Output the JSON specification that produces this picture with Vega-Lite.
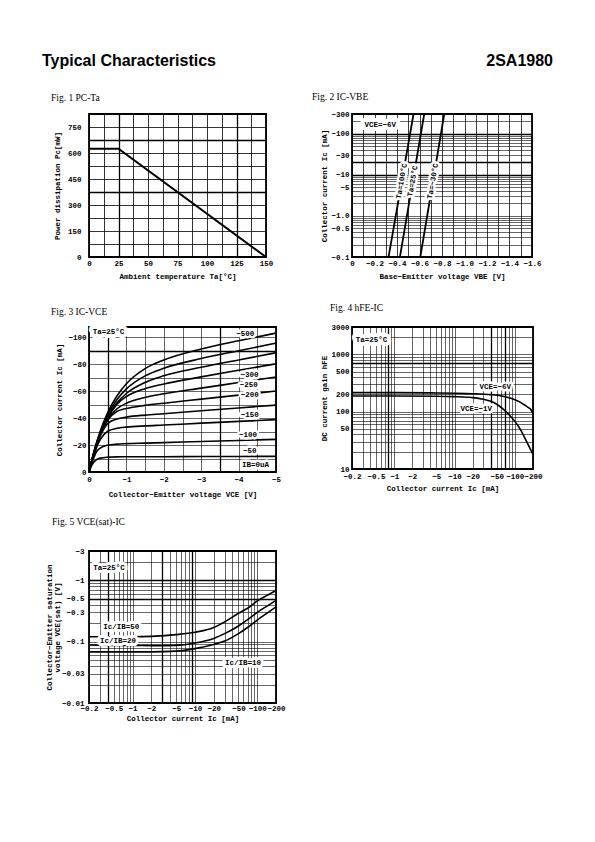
{
"$schema": "https://vega.github.io/schema/vega-lite/v6.json",
"padding": {"left": 42, "top": 53, "right": 5, "bottom": 5},
"background": "white",
"config": {
 "view": {"stroke": "black", "strokeWidth": 1.8},
 "axis": {"domain": false, "ticks": false, "grid": true, "gridColor": "black", "gridWidth": 0.75, "tickCount": 200, "labelFont": "Liberation Mono", "labelFontSize": 7.5, "labelFontWeight": "bold", "labelColor": "black", "labelPadding": 3, "titleFont": "Liberation Mono", "titleFontSize": 7.5, "titleFontWeight": "bold", "titleColor": "black", "titlePadding": 5, "labelOverlap": false, "labelBound": false, "labelFlush": false},
 "title": {"font": "Liberation Serif", "fontSize": 9.5, "fontWeight": "normal", "color": "black", "anchor": "start", "frame": "group", "offset": 9},
 "text": {"font": "Liberation Mono", "fontSize": 7.5, "fontWeight": "bold", "color": "black"},
 "line": {"color": "black", "strokeWidth": 1.6}
},
"datasets": {
 "head": [{"t": "Typical Characteristics", "p": 0, "side": "l"}, {"t": "2SA1980", "p": 1, "side": "r"}],
 "none": [],
 "f1": [{"ta": 0, "pc": 625}, {"ta": 25, "pc": 625}, {"ta": 150, "pc": 0}],
 "f2": [{"s": "100", "vbe": -0.325, "ic": 0.1}, {"s": "100", "vbe": -0.547, "ic": 300}, {"s": "25", "vbe": -0.426, "ic": 0.1}, {"s": "25", "vbe": -0.642, "ic": 300}, {"s": "-30", "vbe": -0.607, "ic": 0.1}, {"s": "-30", "vbe": -0.82, "ic": 300}],
 "f2lab": [{"t": "Ta=100°C", "vbe": -0.443, "ic": 7}, {"t": "Ta=25°C", "vbe": -0.541, "ic": 7}, {"t": "Ta=−30°C", "vbe": -0.72, "ic": 7}],
 "f2box": [{"t": "VCE=−6V", "vbe": -0.11, "ic": 160}],
 "f3": [
  {"ib": 500, "v": 0, "i": 0}, {"ib": 500, "v": -0.1, "i": -11.6}, {"ib": 500, "v": -0.2, "i": -21.6}, {"ib": 500, "v": -0.3, "i": -30.2}, {"ib": 500, "v": -0.5, "i": -44}, {"ib": 500, "v": -0.75, "i": -56.5}, {"ib": 500, "v": -1, "i": -65.4}, {"ib": 500, "v": -1.5, "i": -76.6}, {"ib": 500, "v": -2, "i": -83}, {"ib": 500, "v": -3, "i": -91.2}, {"ib": 500, "v": -4, "i": -97.3}, {"ib": 500, "v": -5, "i": -103},
  {"ib": 450, "v": 0, "i": 0}, {"ib": 450, "v": -0.1, "i": -11.4}, {"ib": 450, "v": -0.2, "i": -21.1}, {"ib": 450, "v": -0.3, "i": -29.3}, {"ib": 450, "v": -0.5, "i": -42.2}, {"ib": 450, "v": -0.75, "i": -53.7}, {"ib": 450, "v": -1, "i": -61.6}, {"ib": 450, "v": -1.5, "i": -71.3}, {"ib": 450, "v": -2, "i": -76.9}, {"ib": 450, "v": -3, "i": -84.1}, {"ib": 450, "v": -4, "i": -89.9}, {"ib": 450, "v": -5, "i": -95.5},
  {"ib": 400, "v": 0, "i": 0}, {"ib": 400, "v": -0.1, "i": -11.3}, {"ib": 400, "v": -0.2, "i": -20.8}, {"ib": 400, "v": -0.3, "i": -28.7}, {"ib": 400, "v": -0.5, "i": -40.8}, {"ib": 400, "v": -0.75, "i": -51.3}, {"ib": 400, "v": -1, "i": -58.2}, {"ib": 400, "v": -1.5, "i": -66.4}, {"ib": 400, "v": -2, "i": -71.3}, {"ib": 400, "v": -3, "i": -77.6}, {"ib": 400, "v": -4, "i": -83.1}, {"ib": 400, "v": -5, "i": -88.4},
  {"ib": 350, "v": 0, "i": 0}, {"ib": 350, "v": -0.1, "i": -11.2}, {"ib": 350, "v": -0.2, "i": -20.5}, {"ib": 350, "v": -0.3, "i": -28.3}, {"ib": 350, "v": -0.5, "i": -40}, {"ib": 350, "v": -0.75, "i": -50.3}, {"ib": 350, "v": -1, "i": -55.9}, {"ib": 350, "v": -1.5, "i": -61.8}, {"ib": 350, "v": -2, "i": -65.2}, {"ib": 350, "v": -3, "i": -70.5}, {"ib": 350, "v": -4, "i": -75.4}, {"ib": 350, "v": -5, "i": -80.2},
  {"ib": 300, "v": 0, "i": 0}, {"ib": 300, "v": -0.1, "i": -11}, {"ib": 300, "v": -0.2, "i": -20.2}, {"ib": 300, "v": -0.3, "i": -28}, {"ib": 300, "v": -0.5, "i": -39.2}, {"ib": 300, "v": -0.75, "i": -46.9}, {"ib": 300, "v": -1, "i": -51}, {"ib": 300, "v": -1.5, "i": -55.3}, {"ib": 300, "v": -2, "i": -58}, {"ib": 300, "v": -3, "i": -62.2}, {"ib": 300, "v": -4, "i": -66.3}, {"ib": 300, "v": -5, "i": -70.4},
  {"ib": 250, "v": 0, "i": 0}, {"ib": 250, "v": -0.1, "i": -10.8}, {"ib": 250, "v": -0.2, "i": -19.8}, {"ib": 250, "v": -0.3, "i": -27.5}, {"ib": 250, "v": -0.5, "i": -38.5}, {"ib": 250, "v": -0.75, "i": -44.9}, {"ib": 250, "v": -1, "i": -47.1}, {"ib": 250, "v": -1.5, "i": -49.4}, {"ib": 250, "v": -2, "i": -51}, {"ib": 250, "v": -3, "i": -54}, {"ib": 250, "v": -4, "i": -57}, {"ib": 250, "v": -5, "i": -60},
  {"ib": 200, "v": 0, "i": 0}, {"ib": 200, "v": -0.1, "i": -10.5}, {"ib": 200, "v": -0.2, "i": -19}, {"ib": 200, "v": -0.3, "i": -26.5}, {"ib": 200, "v": -0.5, "i": -35.9}, {"ib": 200, "v": -0.75, "i": -39.3}, {"ib": 200, "v": -1, "i": -40.7}, {"ib": 200, "v": -1.5, "i": -42.2}, {"ib": 200, "v": -2, "i": -43.2}, {"ib": 200, "v": -3, "i": -45.4}, {"ib": 200, "v": -4, "i": -47.5}, {"ib": 200, "v": -5, "i": -49.6},
  {"ib": 150, "v": 0, "i": 0}, {"ib": 150, "v": -0.1, "i": -10}, {"ib": 150, "v": -0.2, "i": -18}, {"ib": 150, "v": -0.3, "i": -24}, {"ib": 150, "v": -0.5, "i": -30.2}, {"ib": 150, "v": -0.75, "i": -32.4}, {"ib": 150, "v": -1, "i": -33.3}, {"ib": 150, "v": -1.5, "i": -34.2}, {"ib": 150, "v": -2, "i": -34.8}, {"ib": 150, "v": -3, "i": -36.2}, {"ib": 150, "v": -4, "i": -37.5}, {"ib": 150, "v": -5, "i": -38.8},
  {"ib": 100, "v": 0, "i": 0}, {"ib": 100, "v": -0.1, "i": -8.5}, {"ib": 100, "v": -0.2, "i": -15}, {"ib": 100, "v": -0.3, "i": -17.7}, {"ib": 100, "v": -0.5, "i": -19.9}, {"ib": 100, "v": -0.75, "i": -20.7}, {"ib": 100, "v": -1, "i": -21}, {"ib": 100, "v": -1.5, "i": -21.4}, {"ib": 100, "v": -2, "i": -21.8}, {"ib": 100, "v": -3, "i": -22.6}, {"ib": 100, "v": -4, "i": -23.4}, {"ib": 100, "v": -5, "i": -24.2},
  {"ib": 50, "v": 0, "i": 0}, {"ib": 50, "v": -0.1, "i": -6.3}, {"ib": 50, "v": -0.2, "i": -9.1}, {"ib": 50, "v": -0.3, "i": -10.3}, {"ib": 50, "v": -0.5, "i": -11}, {"ib": 50, "v": -0.75, "i": -11.25}, {"ib": 50, "v": -1, "i": -11.3}, {"ib": 50, "v": -1.5, "i": -11.33}, {"ib": 50, "v": -2, "i": -11.36}, {"ib": 50, "v": -3, "i": -11.44}, {"ib": 50, "v": -4, "i": -11.52}, {"ib": 50, "v": -5, "i": -11.6},
  {"ib": 0, "v": 0, "i": 0}, {"ib": 0, "v": -5, "i": 0}
 ],
 "f3lab": [{"t": "−500", "v": -4.18, "i": -102.5}, {"t": "−300", "v": -4.29, "i": -71.6}, {"t": "−250", "v": -4.27, "i": -64.2}, {"t": "−200", "v": -4.3, "i": -57.3}, {"t": "−150", "v": -4.3, "i": -42}, {"t": "−100", "v": -4.25, "i": -27.2}, {"t": "−50", "v": -4.3, "i": -15.3}, {"t": "IB=0uA", "v": -4.45, "i": -4.9}],
 "f3box": [{"t": "Ta=25°C", "v": -0.1, "i": -103.5}],
 "f4": [
  {"s": "6", "ic": 0.2, "h": 215}, {"s": "6", "ic": 1, "h": 215}, {"s": "6", "ic": 5, "h": 212}, {"s": "6", "ic": 10, "h": 210}, {"s": "6", "ic": 20, "h": 206}, {"s": "6", "ic": 40, "h": 198}, {"s": "6", "ic": 60, "h": 188}, {"s": "6", "ic": 80, "h": 175}, {"s": "6", "ic": 100, "h": 162}, {"s": "6", "ic": 120, "h": 148}, {"s": "6", "ic": 150, "h": 128}, {"s": "6", "ic": 170, "h": 117}, {"s": "6", "ic": 185, "h": 108}, {"s": "6", "ic": 200, "h": 92},
  {"s": "1", "ic": 0.2, "h": 188}, {"s": "1", "ic": 1, "h": 188}, {"s": "1", "ic": 5, "h": 186}, {"s": "1", "ic": 10, "h": 183}, {"s": "1", "ic": 20, "h": 176}, {"s": "1", "ic": 30, "h": 165}, {"s": "1", "ic": 40, "h": 152}, {"s": "1", "ic": 50, "h": 135}, {"s": "1", "ic": 65, "h": 110}, {"s": "1", "ic": 83, "h": 85}, {"s": "1", "ic": 100, "h": 68}, {"s": "1", "ic": 122, "h": 50}, {"s": "1", "ic": 157, "h": 30}, {"s": "1", "ic": 200, "h": 18}
 ],
 "f4lab": [{"t": "VCE=−6V", "ic": 47.5, "h": 266}, {"t": "VCE=−1V", "ic": 23, "h": 110}],
 "f4box": [{"t": "Ta=25°C", "ic": 0.23, "h": 1750}],
 "f5": [
  {"r": 50, "ic": 0.2, "v": 0.12}, {"r": 50, "ic": 0.5, "v": 0.12}, {"r": 50, "ic": 1, "v": 0.12}, {"r": 50, "ic": 2, "v": 0.122}, {"r": 50, "ic": 5, "v": 0.13}, {"r": 50, "ic": 10, "v": 0.142}, {"r": 50, "ic": 20, "v": 0.17}, {"r": 50, "ic": 30, "v": 0.21}, {"r": 50, "ic": 50, "v": 0.29}, {"r": 50, "ic": 70, "v": 0.35}, {"r": 50, "ic": 100, "v": 0.46}, {"r": 50, "ic": 150, "v": 0.58}, {"r": 50, "ic": 200, "v": 0.68},
  {"r": 20, "ic": 0.2, "v": 0.088}, {"r": 20, "ic": 0.5, "v": 0.087}, {"r": 20, "ic": 1, "v": 0.087}, {"r": 20, "ic": 2, "v": 0.086}, {"r": 20, "ic": 5, "v": 0.087}, {"r": 20, "ic": 10, "v": 0.095}, {"r": 20, "ic": 20, "v": 0.113}, {"r": 20, "ic": 30, "v": 0.135}, {"r": 20, "ic": 50, "v": 0.18}, {"r": 20, "ic": 70, "v": 0.228}, {"r": 20, "ic": 100, "v": 0.3}, {"r": 20, "ic": 150, "v": 0.39}, {"r": 20, "ic": 200, "v": 0.47},
  {"r": 10, "ic": 0.2, "v": 0.068}, {"r": 10, "ic": 0.5, "v": 0.068}, {"r": 10, "ic": 1, "v": 0.068}, {"r": 10, "ic": 2, "v": 0.068}, {"r": 10, "ic": 5, "v": 0.07}, {"r": 10, "ic": 10, "v": 0.077}, {"r": 10, "ic": 20, "v": 0.09}, {"r": 10, "ic": 30, "v": 0.102}, {"r": 10, "ic": 50, "v": 0.135}, {"r": 10, "ic": 70, "v": 0.17}, {"r": 10, "ic": 100, "v": 0.225}, {"r": 10, "ic": 150, "v": 0.3}, {"r": 10, "ic": 200, "v": 0.37}
 ],
 "f5lab": [{"t": "Ta=25°C", "ic": 0.234, "v": 1.57}, {"t": "Ic/IB=50", "ic": 0.34, "v": 0.172}, {"t": "Ic/IB=20", "ic": 0.3, "v": 0.103}, {"t": "Ic/IB=10", "ic": 30.3, "v": 0.0455}]
},
"bounds": "flush",
"columns": 2,
"align": {"row": "none", "column": "each"},
"spacing": {"row": 30, "column": 76},
"concat": [
 {
  "width": 187, "height": 10,
  "view": {"stroke": null},
  "data": {"name": "head"},
  "transform": [{"filter": "datum.side == 'l'"}],
  "mark": {"type": "text", "align": "left", "baseline": "middle", "dx": -47, "dy": -18, "font": "Liberation Sans", "fontSize": 16, "fontWeight": "bold", "color": "black"},
  "encoding": {"x": {"field": "p", "type": "quantitative", "scale": {"domain": [0, 1]}, "axis": null}, "text": {"field": "t"}}
 },
 {
  "width": 181, "height": 10,
  "view": {"stroke": null},
  "data": {"name": "head"},
  "transform": [{"filter": "datum.side == 'r'"}],
  "mark": {"type": "text", "align": "right", "baseline": "middle", "dx": 20, "dy": -18, "font": "Liberation Sans", "fontSize": 16, "fontWeight": "bold", "color": "black"},
  "encoding": {"x": {"field": "p", "type": "quantitative", "scale": {"domain": [0, 1]}, "axis": null}, "text": {"field": "t"}}
 },
 {
  "title": {"text": "Fig. 1 PC-Ta", "dx": -38, "offset": 8},
  "width": 177, "height": 143,
  "data": {"name": "f1"},
  "mark": {"type": "line", "color": "black", "strokeWidth": 2},
  "encoding": {
   "x": {"field": "ta", "type": "quantitative", "scale": {"domain": [0, 150], "nice": false},
    "axis": {"values": [0, 12.5, 25, 37.5, 50, 62.5, 75, 87.5, 100, 112.5, 125, 137.5, 150], "labelExpr": "datum.value % 25 == 0 ? format(datum.value, 'd') : ''", "title": "Ambient temperature Ta[°C]", "labelPadding": 2, "titlePadding": 6, "gridWidth": {"condition": {"test": "datum.value == 25 || datum.value == 125", "value": 1.3}, "value": 0.8}}},
   "y": {"field": "pc", "type": "quantitative", "scale": {"domain": [0, 825], "nice": false},
    "axis": {"values": [0, 75, 150, 225, 300, 375, 450, 525, 600, 675, 750, 825], "labelExpr": "datum.value % 150 == 0 ? format(datum.value, 'd') : ''", "title": "Power dissipation Pc[mW]", "labelPadding": 8, "titlePadding": 6, "gridWidth": {"condition": {"test": "datum.value == 375 || datum.value == 675", "value": 1.3}, "value": 0.8}}}
  }
 },
 {
  "title": {"text": "Fig. 2 IC-VBE", "dx": -40, "offset": 9},
  "width": 180, "height": 143,
  "layer": [
   {
    "data": {"name": "f2"},
    "mark": {"type": "line", "color": "black", "strokeWidth": 1.8},
    "encoding": {
     "x": {"field": "vbe", "type": "quantitative", "scale": {"domain": [0, -1.6], "nice": false, "zero": false},
      "axis": {"values": [0, -0.1, -0.2, -0.3, -0.4, -0.5, -0.6, -0.7, -0.8, -0.9, -1.0, -1.1, -1.2, -1.3, -1.4, -1.5, -1.6], "labelExpr": "abs(round(datum.value * 10)) % 2 == 0 ? (datum.value == 0 ? '0' : format(datum.value, '.1f')) : ''", "title": "Base−Emitter voltage VBE [V]", "labelPadding": 2, "titlePadding": 6}},
     "y": {"field": "ic", "type": "quantitative", "scale": {"type": "log", "domain": [0.1, 300], "nice": false},
      "axis": {"values": [0.1, 0.2, 0.3, 0.4, 0.5, 0.6, 0.7, 0.8, 0.9, 1, 2, 3, 4, 5, 6, 7, 8, 9, 10, 20, 30, 40, 50, 60, 70, 80, 90, 100, 200, 300], "labelExpr": "indexof([0.1, 0.5, 1, 5, 10, 30, 100, 300], datum.value) >= 0 ? (datum.value == 1 ? '−1.0' : '−' + datum.value) : ''", "title": "Collector current Ic [mA]", "labelPadding": 3, "titlePadding": 2, "gridWidth": {"condition": {"test": "datum.value == 100 || datum.value == 20 || datum.value == 10", "value": 1.3}, "value": 0.6}}},
     "detail": {"field": "s"}
    }
   },
   {
    "data": {"name": "f2lab"},
    "mark": {"type": "text", "angle": 280, "stroke": "white", "strokeWidth": 5, "strokeJoin": "round"},
    "encoding": {"x": {"field": "vbe", "type": "quantitative"}, "y": {"field": "ic", "type": "quantitative"}, "text": {"field": "t"}}
   },
   {
    "data": {"name": "f2lab"},
    "mark": {"type": "text", "angle": 280},
    "encoding": {"x": {"field": "vbe", "type": "quantitative"}, "y": {"field": "ic", "type": "quantitative"}, "text": {"field": "t"}}
   },
   {
    "data": {"name": "f2box"},
    "mark": {"type": "text", "align": "left", "stroke": "white", "strokeWidth": 8, "strokeJoin": "round"},
    "encoding": {"x": {"field": "vbe", "type": "quantitative"}, "y": {"field": "ic", "type": "quantitative"}, "text": {"field": "t"}}
   },
   {
    "data": {"name": "f2box"},
    "mark": {"type": "text", "align": "left"},
    "encoding": {"x": {"field": "vbe", "type": "quantitative"}, "y": {"field": "ic", "type": "quantitative"}, "text": {"field": "t"}}
   }
  ]
 },
 {
  "width": 1, "height": 10,
  "view": {"stroke": null},
  "data": {"name": "none"},
  "mark": "point",
  "encoding": {}
 },
 {
  "width": 1, "height": 6,
  "view": {"stroke": null},
  "data": {"name": "none"},
  "mark": "point",
  "encoding": {}
 },
 {
  "title": {"text": "Fig. 3 IC-VCE", "dx": -38, "offset": 11},
  "width": 187, "height": 145,
  "layer": [
   {
    "data": {"name": "f3"},
    "mark": {"type": "line", "color": "black", "strokeWidth": 1.6, "interpolate": "monotone"},
    "encoding": {
     "x": {"field": "v", "type": "quantitative", "scale": {"domain": [0, -5], "nice": false, "zero": false},
      "axis": {"values": [0, -0.5, -1, -1.5, -2, -2.5, -3, -3.5, -4, -4.5, -5], "labelExpr": "datum.value % 1 == 0 ? format(datum.value, 'd') : ''", "title": "Collector−Emitter voltage VCE [V]", "labelPadding": 3, "titlePadding": 8, "gridWidth": {"condition": {"test": "datum.value == -0.5 || datum.value == -3.5", "value": 1.3}, "value": 0.6}}},
     "y": {"field": "i", "type": "quantitative", "scale": {"domain": [0, -107.5], "nice": false, "zero": false},
      "axis": {"values": [0, -10, -20, -30, -40, -50, -60, -70, -80, -90, -100], "labelExpr": "datum.value % 20 == 0 ? format(datum.value, 'd') : ''", "title": "Collector current Ic [mA]", "labelPadding": 3, "titlePadding": 4, "gridWidth": {"condition": {"test": "datum.value == -90", "value": 1.3}, "value": 0.6}}},
     "detail": {"field": "ib"}
    }
   },
   {
    "data": {"name": "f3lab"},
    "mark": {"type": "text", "stroke": "white", "strokeWidth": 5, "strokeJoin": "round"},
    "encoding": {"x": {"field": "v", "type": "quantitative"}, "y": {"field": "i", "type": "quantitative"}, "text": {"field": "t"}}
   },
   {
    "data": {"name": "f3lab"},
    "mark": {"type": "text"},
    "encoding": {"x": {"field": "v", "type": "quantitative"}, "y": {"field": "i", "type": "quantitative"}, "text": {"field": "t"}}
   },
   {
    "data": {"name": "f3box"},
    "mark": {"type": "text", "align": "left", "stroke": "white", "strokeWidth": 8, "strokeJoin": "round"},
    "encoding": {"x": {"field": "v", "type": "quantitative"}, "y": {"field": "i", "type": "quantitative"}, "text": {"field": "t"}}
   },
   {
    "data": {"name": "f3box"},
    "mark": {"type": "text", "align": "left"},
    "encoding": {"x": {"field": "v", "type": "quantitative"}, "y": {"field": "i", "type": "quantitative"}, "text": {"field": "t"}}
   }
  ]
 },
 {
  "title": {"text": "Fig. 4 hFE-IC", "dx": -22, "offset": 11},
  "width": 181, "height": 142,
  "layer": [
   {
    "data": {"name": "f4"},
    "mark": {"type": "line", "color": "black", "strokeWidth": 1.6, "interpolate": "monotone"},
    "encoding": {
     "x": {"field": "ic", "type": "quantitative", "scale": {"type": "log", "domain": [0.2, 200], "nice": false},
      "axis": {"values": [0.2, 0.3, 0.4, 0.5, 0.6, 0.7, 0.8, 0.9, 1, 2, 3, 4, 5, 6, 7, 8, 9, 10, 20, 30, 40, 50, 60, 70, 80, 90, 100, 200], "labelExpr": "indexof([0.2, 0.5, 1, 2, 5, 10, 20, 50, 100, 200], datum.value) >= 0 ? '−' + datum.value : ''", "title": "Collector current Ic [mA]", "labelPadding": 3, "titlePadding": 5, "gridWidth": {"condition": {"test": "datum.value == 0.8 || datum.value == 40 || datum.value == 70", "value": 1.3}, "value": 0.6}}},
     "y": {"field": "h", "type": "quantitative", "scale": {"type": "log", "domain": [10, 3000], "nice": false},
      "axis": {"values": [10, 20, 30, 40, 50, 60, 70, 80, 90, 100, 200, 300, 400, 500, 600, 700, 800, 900, 1000, 2000, 3000], "labelExpr": "indexof([10, 50, 100, 200, 500, 1000, 3000], datum.value) >= 0 ? datum.value + '' : ''", "title": "DC current gain hFE", "labelPadding": 3, "titlePadding": 2, "gridWidth": {"condition": {"test": "datum.value == 700", "value": 1.3}, "value": 0.6}}},
     "detail": {"field": "s"}
    }
   },
   {
    "data": {"name": "f4lab"},
    "mark": {"type": "text", "stroke": "white", "strokeWidth": 5, "strokeJoin": "round"},
    "encoding": {"x": {"field": "ic", "type": "quantitative"}, "y": {"field": "h", "type": "quantitative"}, "text": {"field": "t"}}
   },
   {
    "data": {"name": "f4lab"},
    "mark": {"type": "text"},
    "encoding": {"x": {"field": "ic", "type": "quantitative"}, "y": {"field": "h", "type": "quantitative"}, "text": {"field": "t"}}
   },
   {
    "data": {"name": "f4box"},
    "mark": {"type": "text", "align": "left", "stroke": "white", "strokeWidth": 8, "strokeJoin": "round"},
    "encoding": {"x": {"field": "ic", "type": "quantitative"}, "y": {"field": "h", "type": "quantitative"}, "text": {"field": "t"}}
   },
   {
    "data": {"name": "f4box"},
    "mark": {"type": "text", "align": "left"},
    "encoding": {"x": {"field": "ic", "type": "quantitative"}, "y": {"field": "h", "type": "quantitative"}, "text": {"field": "t"}}
   }
  ]
 },
 {
  "width": 1, "height": 19,
  "view": {"stroke": null},
  "data": {"name": "none"},
  "mark": "point",
  "encoding": {}
 },
 {
  "width": 1, "height": 1,
  "view": {"stroke": null},
  "data": {"name": "none"},
  "mark": "point",
  "encoding": {}
 },
 {
  "title": {"text": "Fig. 5 VCE(sat)-IC", "dx": -37, "offset": 21},
  "width": 187, "height": 152,
  "layer": [
   {
    "data": {"name": "f5"},
    "mark": {"type": "line", "color": "black", "strokeWidth": 1.6, "interpolate": "monotone"},
    "encoding": {
     "x": {"field": "ic", "type": "quantitative", "scale": {"type": "log", "domain": [0.2, 200], "nice": false},
      "axis": {"values": [0.2, 0.3, 0.4, 0.5, 0.6, 0.7, 0.8, 0.9, 1, 2, 3, 4, 5, 6, 7, 8, 9, 10, 20, 30, 40, 50, 60, 70, 80, 90, 100, 200], "labelExpr": "indexof([0.2, 0.5, 1, 2, 5, 10, 20, 50, 100, 200], datum.value) >= 0 ? '−' + datum.value : ''", "title": "Collector current Ic [mA]", "labelPadding": 1, "titlePadding": 3, "gridWidth": {"condition": {"test": "datum.value == 0.4 || datum.value == 3 || datum.value == 9", "value": 1.3}, "value": 0.6}}},
     "y": {"field": "v", "type": "quantitative", "scale": {"type": "log", "domain": [0.01, 3], "nice": false},
      "axis": {"values": [0.01, 0.02, 0.03, 0.04, 0.05, 0.06, 0.07, 0.08, 0.09, 0.1, 0.2, 0.3, 0.4, 0.5, 0.6, 0.7, 0.8, 0.9, 1, 2, 3], "labelExpr": "indexof([0.01, 0.03, 0.1, 0.3, 0.5, 1, 3], datum.value) >= 0 ? '−' + datum.value : ''", "title": ["Collector−Emitter saturation", "voltage VCE(sat) [V]"], "titleLineHeight": 8, "labelPadding": 5, "titlePadding": 0, "gridWidth": {"condition": {"test": "datum.value == 1 || datum.value == 0.5", "value": 1.3}, "value": 0.6}}},
     "detail": {"field": "r"}
    }
   },
   {
    "data": {"name": "f5lab"},
    "mark": {"type": "text", "align": "left", "stroke": "white", "strokeWidth": 6, "strokeJoin": "round"},
    "encoding": {"x": {"field": "ic", "type": "quantitative"}, "y": {"field": "v", "type": "quantitative"}, "text": {"field": "t"}}
   },
   {
    "data": {"name": "f5lab"},
    "mark": {"type": "text", "align": "left"},
    "encoding": {"x": {"field": "ic", "type": "quantitative"}, "y": {"field": "v", "type": "quantitative"}, "text": {"field": "t"}}
   }
  ]
 }
]
}
